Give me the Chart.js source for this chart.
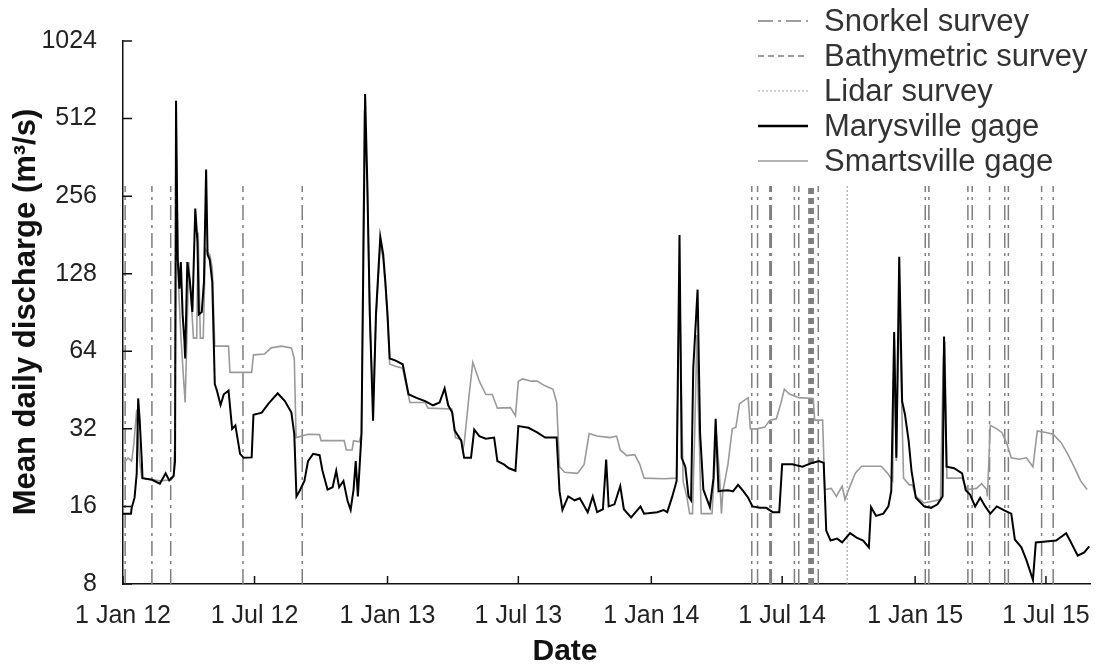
<!DOCTYPE html>
<html>
<head>
<meta charset="utf-8">
<script src="https://cdn.jsdelivr.net/npm/chart.js@4.4.1/dist/chart.umd.min.js"></script>
<style>
  html, body { margin: 0; padding: 0; background: #fff; }
  #wrap { width: 1107px; height: 671px; }
</style>
</head>
<body>
<div id="wrap"><canvas id="chart" width="1107" height="671"></canvas></div>
<script>
// days counted from 1 Jan 2012
const tickDays = [0, 182, 366, 547, 731, 912, 1096, 1277];
const tickLabels = ['1 Jan 12', '1 Jul 12', '1 Jan 13', '1 Jul 13', '1 Jan 14', '1 Jul 14', '1 Jan 15', '1 Jul 15'];
const yTicks = [8, 16, 32, 64, 128, 256, 512, 1024];

const marysvilleDays = [0, 11, 12, 16, 19, 21, 23, 26, 27, 40, 51, 59, 64, 70, 72, 73.4, 75.7, 78, 80, 82.5, 85, 86, 89, 92.6, 96, 100, 103, 105, 109, 112, 115, 117, 120, 123.5, 127, 130, 135, 139.5, 146, 151, 155.5, 162, 167, 178, 180.5, 192, 201, 214, 224, 233, 237, 240, 244.5, 251, 256, 263, 272, 276, 283, 290, 295, 299, 305, 310.5, 315, 319, 322, 325, 330, 335, 338, 341.5, 346, 350, 356, 360, 363, 366, 369, 376.5, 387, 395, 406, 418, 429, 438, 445, 450, 455.5, 459, 468, 472, 481.5, 486, 493, 502, 513.5, 518, 527, 534, 543, 547, 561, 573, 584, 600, 604, 608, 616, 625, 632, 643, 650, 656, 664, 668.5, 672, 680, 688, 693, 703, 716, 721, 739, 748, 753, 760, 766, 770, 773, 778, 782.5, 786, 789, 795, 798.5, 803, 812, 817, 820, 824, 828, 837, 844, 851, 858, 865, 871, 881, 890, 899, 908, 912, 926, 940, 953.5, 963, 969.5, 973, 979, 988, 995, 1006, 1015, 1024, 1032, 1035, 1042, 1052, 1059, 1063, 1067, 1070, 1074, 1078, 1082, 1087, 1091, 1097, 1108.5, 1118, 1127, 1134, 1136, 1139.5, 1150, 1161, 1166, 1172, 1179, 1186, 1193, 1200, 1209, 1220, 1229, 1234, 1243, 1250, 1259, 1263, 1277, 1291, 1305, 1311, 1321, 1330, 1337];
const marysvilleQ = [15, 15, 15.8, 17.3, 21.5, 42, 35, 24, 20.6, 20.3, 19.6, 21.5, 20.2, 21, 24, 600, 145, 112, 142, 89, 70, 60, 142, 119, 91, 229, 170, 89, 91, 119, 325, 152, 145, 119, 47.7, 45, 39.6, 43.6, 45, 32, 33, 25.6, 24.7, 24.8, 36.3, 37, 40, 44, 41, 37, 30.5, 17.5, 18.4, 20.1, 24, 25.6, 25.3, 22, 18.6, 19, 22, 19, 20.1, 16.9, 15.5, 18.6, 24, 17.5, 30.7, 637, 290, 89, 34.4, 89, 178, 152, 119, 89, 60, 59, 57, 43.6, 42.2, 41, 39.5, 40.5, 45.9, 39.5, 37, 31.5, 28.8, 24.7, 24.7, 31.8, 30, 29.3, 29.6, 24, 23.3, 22.5, 22, 32.8, 32.3, 31, 29.6, 29.6, 18.3, 15.5, 17.5, 16.9, 17.2, 15.2, 17.5, 15.2, 15.6, 24.3, 16, 16.3, 19.2, 15.6, 14.5, 16, 15, 15.2, 15.5, 15.2, 17.5, 20.1, 181, 24.7, 22.8, 17.5, 16.9, 55, 111, 30.7, 18.6, 15.9, 20.6, 35, 18.3, 18.4, 18.5, 18.3, 19.4, 18.4, 17.3, 16, 15.8, 15.8, 15.2, 15.2, 23.3, 23.3, 22.8, 23.6, 24, 23.6, 12.9, 11.8, 12, 11.6, 12.6, 12.1, 11.8, 11.1, 15.9, 14.7, 15, 16, 18.4, 76, 24.7, 149, 41, 36.3, 28.8, 22, 17.3, 16, 15.8, 16.3, 17.5, 73, 22.8, 22.5, 21.5, 18.5, 17.8, 16, 17.3, 16, 15, 16, 15.4, 15, 11.9, 11.1, 9.9, 8.3, 11.6, 11.7, 11.8, 12.6, 11.7, 10.3, 10.6, 11.2];

const smartsvilleDays = [0, 7, 12, 15, 19, 23, 26, 51, 67, 70, 72, 73.4, 77, 80, 84, 86, 88, 91, 95, 97.5, 102, 104, 107, 111, 114, 117, 120, 123.5, 127, 146, 148, 178, 180.5, 196, 205, 219, 233, 237, 239.5, 256, 272, 274, 306, 309, 317, 319, 327, 330, 334, 338, 341.5, 346, 350, 356, 360, 363, 366, 369, 377, 387, 397, 418, 422, 455, 460, 468, 470, 472, 479, 484, 493, 502, 511, 518, 536, 543, 547, 553, 565, 573, 584, 595, 600, 604, 611, 629, 638, 645, 656, 674, 683, 688, 697, 708, 715, 721, 748, 766, 770, 775, 780, 784, 788, 791, 794, 796, 800, 815, 821, 825, 828, 830, 837, 843, 848, 853, 858, 865, 868, 877, 888, 895, 904, 911, 915, 922, 935, 955, 957, 968, 971, 980, 987, 995, 999, 1004, 1013, 1022, 1049, 1058, 1065, 1067, 1070, 1074, 1080, 1088, 1092, 1097, 1108, 1131, 1135, 1137, 1140, 1161, 1168, 1181, 1188, 1195, 1196, 1200, 1209, 1216, 1223, 1229, 1240, 1250, 1259, 1265, 1277, 1287, 1298, 1307, 1316, 1325, 1334];
const smartsvilleQ = [23.3, 24.7, 24, 28, 38, 24, 20.6, 20.1, 20.3, 21, 30, 420, 112, 74, 49, 40.5, 66, 142, 94, 72, 72, 185, 72, 72, 160, 155, 152, 135, 67, 67, 53, 53, 62, 62.5, 66, 67, 66, 60, 29.6, 30.5, 30.4, 28.8, 28.8, 26.5, 26.5, 28.8, 28.5, 30.7, 550, 280, 85, 40, 85, 170, 145, 115, 85, 57, 56, 55, 40.5, 40.5, 38.5, 38.2, 29.6, 29, 26.4, 28, 43.6, 58, 49, 43.5, 43.5, 38.5, 38.7, 36, 49, 50, 49, 49, 47, 45.6, 40.5, 22.8, 21.7, 21.5, 23.3, 30.7, 30, 29.6, 30, 26.5, 25.2, 25.4, 23.3, 20.6, 20.5, 20.6, 120, 20, 17.5, 15, 15, 30.7, 74, 40, 15, 15, 30.7, 22, 15, 18.3, 23.3, 32, 32.5, 40, 41, 42.3, 32, 32, 32.5, 34.6, 35, 41, 45.6, 43.7, 42.3, 42, 34.6, 34.6, 18.6, 18.8, 17.5, 19.2, 17, 18.6, 21.5, 22.9, 22.9, 21.5, 20.1, 74, 24, 99, 20.6, 19.4, 19.4, 17.5, 16.5, 17, 60, 70, 20.6, 20.6, 18.6, 18.8, 19.6, 18.6, 17.5, 33, 32, 31, 28, 24.7, 24.4, 24.7, 22.8, 31.4, 31, 30.5, 28.3, 25.6, 22.8, 20.1, 18.6];

const snorkelDays = [3, 40, 66, 166, 248, 870, 878, 895, 897, 929, 935, 962, 1110, 1115, 1169, 1175, 1199, 1220, 1225, 1271, 1287];
const bathymetricDays = [949, 951, 953, 955];
const lidarDays = [1002];

const FONT = "'Liberation Sans', Arial, sans-serif";
Chart.defaults.font.family = FONT;
Chart.defaults.color = '#222';

const toPoints = (days, q) => days.map((d, i) => ({ x: d, y: q[i] }));
// each survey date becomes its own vertical segment, broken apart by a null point
const surveyLines = days => days.flatMap(d => [{ x: d, y: 8 }, { x: d, y: 280 }, { x: d, y: null }]);

const legendLines = {
  id: 'legendLines',
  afterDraw(chart) {
    const { ctx, chartArea: a, scales: { x, y } } = chart;
    ctx.save();

    // inward tick marks
    ctx.strokeStyle = '#111';
    ctx.lineWidth = 1.5;
    ctx.beginPath();
    tickDays.forEach(d => {
      const px = x.getPixelForValue(d);
      ctx.moveTo(px, a.bottom);
      ctx.lineTo(px, a.bottom - 8);
    });
    yTicks.forEach(v => {
      const py = y.getPixelForValue(v);
      ctx.moveTo(a.left, py);
      ctx.lineTo(a.left + 9, py);
    });
    ctx.stroke();

    // axis titles
    ctx.fillStyle = '#111';
    ctx.textAlign = 'center';
    ctx.textBaseline = 'middle';
    ctx.font = 'bold 30px ' + FONT;
    ctx.fillText('Date', 565, 652);
    ctx.save();
    ctx.translate(26, 312);
    ctx.rotate(-Math.PI / 2);
    ctx.font = 'bold 31px ' + FONT;
    ctx.fillText('Mean daily discharge (m³/s)', 0, 0);
    ctx.restore();

    // legend
    ctx.font = '31px ' + FONT;
    ctx.textAlign = 'left';
    chart.data.datasets.forEach((ds, i) => {
      const ly = 21 + i * 35;
      ctx.strokeStyle = ds.borderColor;
      ctx.lineWidth = ds.legendWidth || ds.borderWidth;
      ctx.setLineDash(ds.borderDash || []);
      ctx.beginPath();
      ctx.moveTo(758, ly);
      ctx.lineTo(808, ly);
      ctx.stroke();
      ctx.setLineDash([]);
      ctx.fillStyle = '#333';
      ctx.fillText(ds.label, 824, ly + 1);
    });
    ctx.restore();
  }
};

new Chart(document.getElementById('chart').getContext('2d'), {
  type: 'line',
  data: {
    datasets: [
      {
        label: 'Snorkel survey',
        data: surveyLines(snorkelDays),
        borderColor: '#7f7f7f',
        borderWidth: 1.5,
        borderDash: [15, 5, 3, 5],
        order: 5,
      },
      {
        label: 'Bathymetric survey',
        data: surveyLines(bathymetricDays),
        borderColor: '#7f7f7f',
        borderWidth: 1.5,
        borderDash: [6, 4],
        order: 4,
      },
      {
        label: 'Lidar survey',
        data: surveyLines(lidarDays),
        borderColor: '#a5a5a5',
        borderWidth: 1.2,
        borderDash: [2, 2],
        order: 3,
      },
      {
        label: 'Marysville gage',
        data: toPoints(marysvilleDays, marysvilleQ),
        borderColor: '#000',
        borderWidth: 2,
        legendWidth: 2.5,
        order: 1,
      },
      {
        label: 'Smartsville gage',
        data: toPoints(smartsvilleDays, smartsvilleQ),
        borderColor: '#9a9a9a',
        borderWidth: 1.6,
        order: 2,
      },
    ],
  },
  options: {
    responsive: false,
    animation: false,
    spanGaps: false,
    elements: { point: { radius: 0 }, line: { tension: 0 } },
    layout: { padding: { top: 38, right: 6, left: 0, bottom: 0 } },
    plugins: { legend: { display: false }, tooltip: { enabled: false } },
    scales: {
      x: {
        type: 'linear',
        min: 0,
        max: 1338,
        afterBuildTicks: s => { s.ticks = tickDays.map(v => ({ value: v })); },
        afterFit: s => { s.height = 87; },
        grid: { display: false, drawTicks: false },
        border: { color: '#111', width: 1.5 },
        ticks: {
          autoSkip: false,
          maxRotation: 0,
          padding: 17,
          font: { size: 25 },
          color: '#222',
          callback: (v, i) => tickLabels[i],
        },
      },
      y: {
        type: 'logarithmic',
        min: 8,
        max: 1024,
        afterBuildTicks: s => { s.ticks = yTicks.map(v => ({ value: v })); },
        afterFit: s => { s.width = 123; },
        grid: { display: false, drawTicks: false },
        border: { color: '#111', width: 1.5 },
        ticks: {
          padding: 26,
          font: { size: 25 },
          color: '#222',
          callback: v => String(v),
        },
      },
    },
  },
  plugins: [legendLines],
});
</script>
</body>
</html>
